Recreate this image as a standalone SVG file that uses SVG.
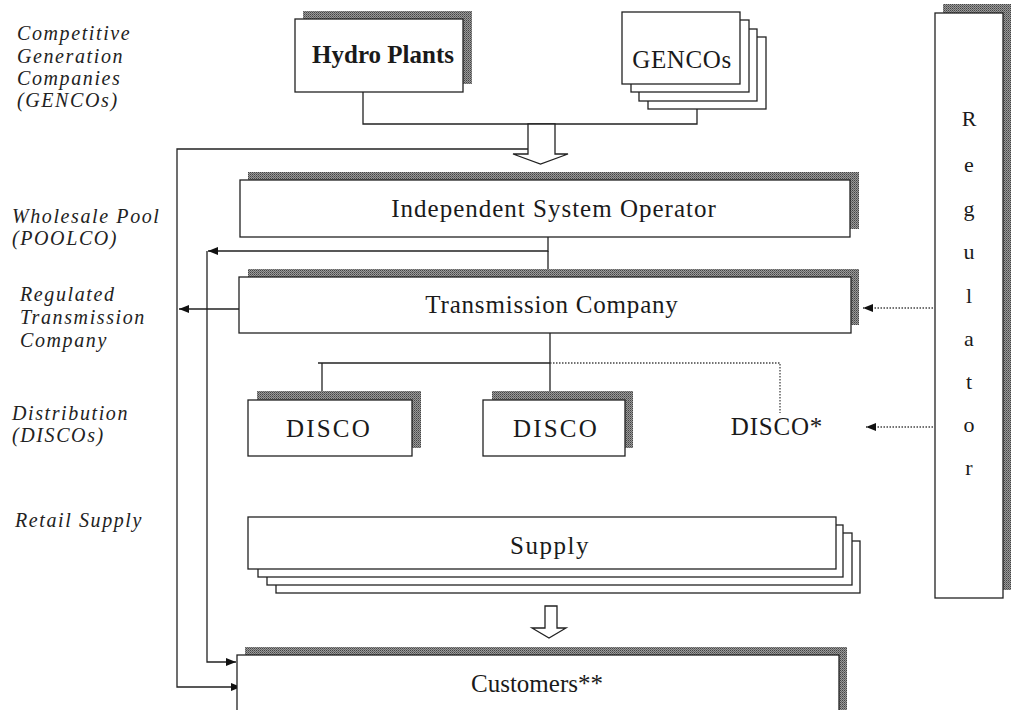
<svg xmlns="http://www.w3.org/2000/svg" width="1011" height="710" viewBox="0 0 1011 710">
<defs>
<pattern id="dither" width="2" height="2" patternUnits="userSpaceOnUse">
<rect width="2" height="2" fill="#9a9a9a"/>
<rect width="1" height="1" fill="#444"/>
<rect x="1" y="1" width="1" height="1" fill="#666"/>
</pattern>
<marker id="ah" viewBox="0 0 10 8" refX="10" refY="4" markerWidth="10" markerHeight="8" markerUnits="userSpaceOnUse" orient="auto">
<path d="M0,0 L10,4 L0,8 Z" fill="#111"/>
</marker>
</defs>
<style>
.bx{fill:#fff;stroke:#222;stroke-width:1.3}
.sh{fill:url(#dither);stroke:none}
.ln{fill:none;stroke:#222;stroke-width:1.3}
.dt{fill:none;stroke:#444;stroke-width:1.3;stroke-dasharray:1.5 1.5}
.hol{fill:#fff;stroke:#222;stroke-width:1.3;stroke-linejoin:miter}
.lbl{font-family:"Liberation Serif",serif;font-style:italic;font-size:20px;letter-spacing:1.6px;fill:#222}
.t{font-family:"Liberation Serif",serif;font-size:25px;fill:#1a1a1a;text-anchor:middle}
.reg{font-family:"Liberation Serif",serif;font-size:22px;fill:#1a1a1a;text-anchor:middle}
</style>
<rect width="1011" height="710" fill="#fff"/>

<g id="labels">
<text class="lbl" x="17" y="40">Competitive</text>
<text class="lbl" x="17" y="63">Generation</text>
<text class="lbl" x="17" y="85">Companies</text>
<text class="lbl" x="17" y="107">(GENCOs)</text>
<text class="lbl" x="12" y="223">Wholesale Pool</text>
<text class="lbl" x="12" y="245">(POOLCO)</text>
<text class="lbl" x="20" y="301">Regulated</text>
<text class="lbl" x="20" y="324">Transmission</text>
<text class="lbl" x="20" y="347">Company</text>
<text class="lbl" x="12" y="420">Distribution</text>
<text class="lbl" x="12" y="442">(DISCOs)</text>
<text class="lbl" x="15" y="527">Retail Supply</text>
</g>

<g id="connectors">
<polyline class="ln" points="363,92 363,124 697,124 697,109"/>
<polygon class="hol" points="528,124 555,124 555,154 568,154 540.5,164 513,154 528,154"/>
<polyline class="ln" points="528,149 177,149 177,687 241,687" marker-end="url(#ah)"/>
<polyline class="ln" points="548,237 548,251 208,251" marker-end="url(#ah)"/>
<line class="ln" x1="548" y1="251" x2="548" y2="277"/>
<polyline class="ln" points="207,251 207,662 236,662" marker-end="url(#ah)"/>
<line class="ln" x1="239" y1="309" x2="179" y2="309" marker-end="url(#ah)"/>
<line class="ln" x1="550" y1="333" x2="550" y2="400"/>
<polyline class="ln" points="318,363 550,363"/>
<line class="ln" x1="322" y1="363" x2="322" y2="402"/>
<polyline class="dt" points="550,363 780,363 780,413"/>
<line class="dt" x1="933" y1="308" x2="863" y2="308" marker-end="url(#ah)"/>
<line class="dt" x1="933" y1="427" x2="866" y2="427" marker-end="url(#ah)"/>
<polygon class="hol" points="545,606 557,606 557,628 566,628 549,638 532,628 545,628"/>
</g>

<g id="hydro">
<rect class="sh" x="303" y="11" width="169" height="73"/>
<rect class="bx" x="295" y="19" width="168" height="73"/>
<text class="t" x="383" y="63" font-weight="bold" font-size="25">Hydro Plants</text>
</g>

<g id="gencos">
<rect class="bx" x="648" y="37" width="118" height="72"/>
<rect class="bx" x="639" y="29" width="118" height="72"/>
<rect class="bx" x="631" y="20" width="118" height="72"/>
<rect class="bx" x="622" y="12" width="118" height="72"/>
<text class="t" x="682" y="68" letter-spacing="0.6">GENCOs</text>
</g>

<g id="regulator">
<rect class="sh" x="943" y="4" width="68" height="586"/>
<rect class="bx" x="935" y="13" width="68" height="585"/>
<text class="reg" x="969" y="126">R</text>
<text class="reg" x="969" y="172">e</text>
<text class="reg" x="969" y="216">g</text>
<text class="reg" x="969" y="259">u</text>
<text class="reg" x="969" y="303">l</text>
<text class="reg" x="969" y="346">a</text>
<text class="reg" x="969" y="389">t</text>
<text class="reg" x="969" y="432">o</text>
<text class="reg" x="969" y="475">r</text>
</g>

<g id="iso">
<rect class="sh" x="248" y="172" width="611" height="57"/>
<rect class="bx" x="240" y="180" width="610" height="57"/>
<text class="t" x="554" y="217" letter-spacing="1">Independent System Operator</text>
</g>

<g id="transco">
<rect class="sh" x="248" y="269" width="611" height="56"/>
<rect class="bx" x="239" y="277" width="612" height="56"/>
<text class="t" x="552" y="313" letter-spacing="0.8">Transmission Company</text>
</g>

<g id="disco1">
<rect class="sh" x="257" y="391" width="164" height="57"/>
<rect class="bx" x="248" y="400" width="164" height="56"/>
<text class="t" x="329" y="437" font-size="26" letter-spacing="2.2">DISCO</text>
</g>

<g id="disco2">
<rect class="sh" x="492" y="391" width="141" height="57"/>
<rect class="bx" x="483" y="400" width="142" height="56"/>
<text class="t" x="556" y="437" font-size="26" letter-spacing="2.2">DISCO</text>
</g>

<g id="disco3">
<text class="t" x="777" y="435" font-size="24" letter-spacing="0.8">DISCO*</text>
</g>

<g id="supply">
<rect class="bx" x="276" y="541" width="584" height="52"/>
<rect class="bx" x="267" y="533" width="585" height="52"/>
<rect class="bx" x="258" y="525" width="585" height="52"/>
<rect class="bx" x="248" y="517" width="588" height="52"/>
<text class="t" x="550" y="554" letter-spacing="1.5">Supply</text>
</g>

<g id="customers">
<rect class="sh" x="245" y="647" width="602" height="70"/>
<rect class="bx" x="237" y="655" width="602" height="70"/>
<text class="t" x="537" y="692">Customers**</text>
</g>
</svg>
